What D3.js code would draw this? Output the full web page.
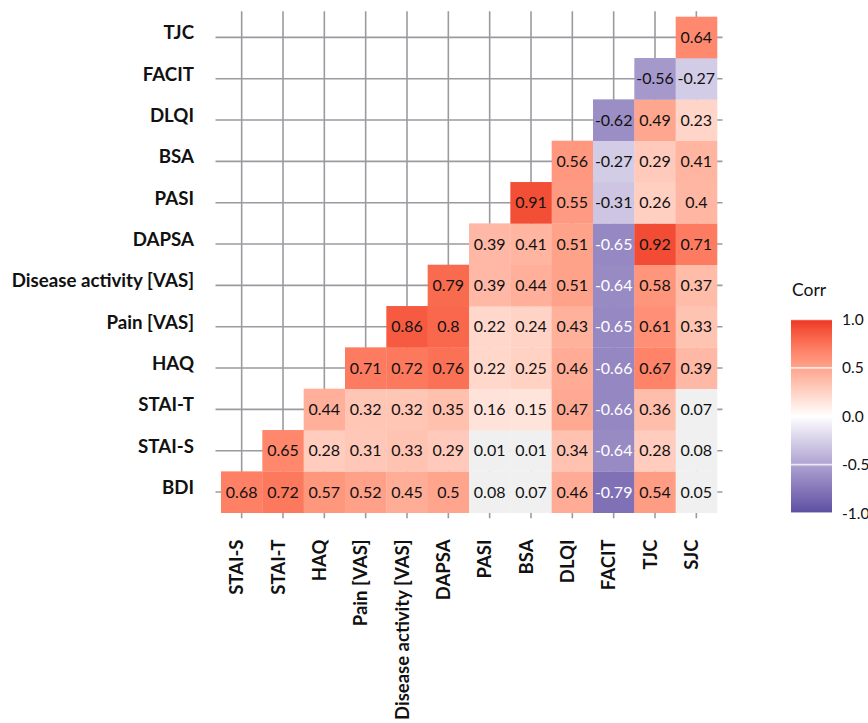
<!DOCTYPE html>
<html>
<head>
<meta charset="utf-8">
<script src="https://cdn.jsdelivr.net/npm/d3@7"></script>
<style>
  html, body { margin: 0; padding: 0; background: #ffffff; }
  svg { display: block; font-family: Lato, "Open Sans", sans-serif; }
</style>
</head>
<body>
<div id="chart"></div>
<script>
// Column (x) variables, left to right
const xVars = ["STAI-S", "STAI-T", "HAQ", "Pain [VAS]", "Disease activity [VAS]", "DAPSA",
               "PASI", "BSA", "DLQI", "FACIT", "TJC", "SJC"];
// Row (y) variables, bottom to top
const yVars = ["BDI", "STAI-S", "STAI-T", "HAQ", "Pain [VAS]", "Disease activity [VAS]",
               "DAPSA", "PASI", "BSA", "DLQI", "FACIT", "TJC"];

// Correlations per row; row i starts at column i (lower triangle)
const rowBDI    = [0.68, 0.72, 0.57, 0.52, 0.45, 0.5, 0.08, 0.07, 0.46, -0.79, 0.54, 0.05];
const rowSTAIS  = [0.65, 0.28, 0.31, 0.33, 0.29, 0.01, 0.01, 0.34, -0.64, 0.28, 0.08];
const rowSTAIT  = [0.44, 0.32, 0.32, 0.35, 0.16, 0.15, 0.47, -0.66, 0.36, 0.07];
const rowHAQ    = [0.71, 0.72, 0.76, 0.22, 0.25, 0.46, -0.66, 0.67, 0.39];
const rowPain   = [0.86, 0.8, 0.22, 0.24, 0.43, -0.65, 0.61, 0.33];
const rowDisAct = [0.79, 0.39, 0.44, 0.51, -0.64, 0.58, 0.37];
const rowDAPSA  = [0.39, 0.41, 0.51, -0.65, 0.92, 0.71];
const rowPASI   = [0.91, 0.55, -0.31, 0.26, 0.4];
const rowBSA    = [0.56, -0.27, 0.29, 0.41];
const rowDLQI   = [-0.62, 0.49, 0.23];
const rowFACIT  = [-0.56, -0.27];
const rowTJC    = [0.64];
const rows = [rowBDI, rowSTAIS, rowSTAIT, rowHAQ, rowPain, rowDisAct,
              rowDAPSA, rowPASI, rowBSA, rowDLQI, rowFACIT, rowTJC];

const legendTicks = [1.0, 0.5, 0.0, -0.5, -1.0];
const legendTitle = "Corr";

// Build cells
const cells = [];
rows.forEach((vals, i) => {
  vals.forEach((v, k) => {
    cells.push({ y: yVars[i], x: xVars[i + k], v: v });
  });
});

const W = 868, H = 723;
const panel = { left: 221, right: 717, top: 16.7, bottom: 512.7 };
const gridCol = "#9b9a9f";

const svg = d3.select("#chart").append("svg")
  .attr("width", W).attr("height", H);

const x = d3.scaleBand().domain(xVars).range([panel.left, panel.right]).padding(0);
const y = d3.scaleBand().domain(yVars).range([panel.bottom, panel.top]).padding(0);

const color = d3.scaleLinear()
  .domain([-1, 0, 1])
  .range(["#5d4fa2", "#ffffff", "#ee3524"])
  .interpolate(d3.interpolateLab);
const fillFor = v => Math.abs(v) < 0.1 ? "#f0f0f0" : color(v);

// Grid lines + ticks (extend outside panel)
const tickLen = 5.5;
const g = svg.append("g");
xVars.forEach(d => {
  const cx = x(d) + x.bandwidth() / 2;
  g.append("line").attr("x1", cx).attr("x2", cx)
    .attr("y1", panel.top - tickLen).attr("y2", panel.bottom + tickLen)
    .attr("stroke", gridCol).attr("stroke-width", 1.6);
});
yVars.forEach(d => {
  const cy = y(d) + y.bandwidth() / 2;
  g.append("line").attr("y1", cy).attr("y2", cy)
    .attr("x1", panel.left - tickLen).attr("x2", panel.right + tickLen)
    .attr("stroke", gridCol).attr("stroke-width", 1.6);
});

// Tiles
svg.append("g").selectAll("rect").data(cells).join("rect")
  .attr("x", d => x(d.x)).attr("y", d => y(d.y))
  .attr("width", x.bandwidth() + 0.3).attr("height", y.bandwidth() + 0.3)
  .attr("fill", d => fillFor(d.v));

// Value labels
svg.append("g").selectAll("text").data(cells).join("text")
  .attr("x", d => x(d.x) + x.bandwidth() / 2)
  .attr("y", d => y(d.y) + y.bandwidth() / 2 + 5.5)
  .attr("text-anchor", "middle")
  .attr("font-size", 16)
  .attr("fill", d => d.v <= -0.63 ? "#ffffff" : "#111111")
  .text(d => String(d.v));

// Y axis labels
svg.append("g").selectAll("text").data(yVars).join("text")
  .attr("x", 194)
  .attr("y", d => y(d) + y.bandwidth() / 2 + 2)
  .attr("text-anchor", "end")
  .attr("font-size", 18.7)
  .attr("font-weight", "bold")
  .attr("fill", "#111111")
  .text(d => d);

// X axis labels (rotated)
svg.append("g").selectAll("text").data(xVars).join("text")
  .attr("transform", d => `translate(${x(d) + x.bandwidth() / 2 + 1.5},539.5) rotate(-90)`)
  .attr("text-anchor", "end")
  .attr("font-size", 18.5)
  .attr("font-weight", "bold")
  .attr("fill", "#111111")
  .text(d => d);

// Legend
const lg = { x: 791, w: 41, top: 319.5, bottom: 513 };
const ly = d3.scaleLinear().domain([-1, 1]).range([lg.bottom, lg.top]);
const defs = svg.append("defs");
const grad = defs.append("linearGradient").attr("id", "cbar")
  .attr("x1", 0).attr("y1", 1).attr("x2", 0).attr("y2", 0);
d3.range(0, 1.0001, 0.05).forEach(t => {
  grad.append("stop").attr("offset", t).attr("stop-color", color(-1 + 2 * t));
});
svg.append("text").attr("x", 792).attr("y", 296)
  .attr("font-size", 17.5).attr("fill", "#111111").text(legendTitle);
svg.append("rect").attr("x", lg.x).attr("y", lg.top)
  .attr("width", lg.w).attr("height", lg.bottom - lg.top)
  .attr("fill", "url(#cbar)");
legendTicks.forEach(t => {
  svg.append("line").attr("x1", lg.x).attr("x2", lg.x + lg.w)
    .attr("y1", ly(t)).attr("y2", ly(t))
    .attr("stroke", "#ffffff").attr("stroke-width", 1.6).attr("stroke-opacity", 0.75);
  svg.append("text").attr("x", 842).attr("y", ly(t) + 5.5)
    .attr("font-size", 15.5).attr("fill", "#111111")
    .text(d3.format(".1f")(t).replace("−", "-"));
});
</script>
</body>
</html>
